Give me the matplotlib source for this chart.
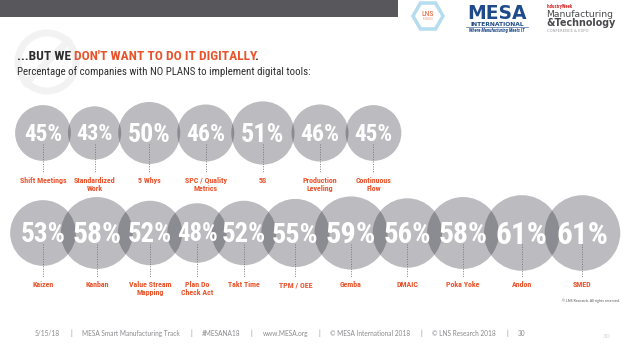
import numpy as np
import matplotlib
matplotlib.use("Agg")
import matplotlib.pyplot as plt
from matplotlib.patches import Circle, RegularPolygon
from matplotlib import font_manager as fm

# data
row1_labels = ["Shift Meetings", "Standardized\nWork", "5 Whys", "SPC / Quality\nMetrics",
               "5S", "Production\nLeveling", "Continuous\nFlow"]
row1_values = [45, 43, 50, 46, 51, 46, 45]
row2_labels = ["Kaizen", "Kanban", "Value Stream\nMapping", "Plan Do\nCheck Act", "Takt Time",
               "TPM / OEE", "Gemba", "DMAIC", "Poka Yoke", "Andon", "SMED"]
row2_values = [53, 58, 52, 48, 52, 55, 59, 56, 58, 61, 61]

footer_items = ["5/15/18", "MESA Smart Manufacturing Track", "#MESANA18", "www.MESA.org",
                "\u00a9 MESA International 2018", "\u00a9 LNS Research 2018", "30"]

# pick a condensed face that is installed
installed = {f.name for f in fm.fontManager.ttflist}
cond = next((n for n in ["Roboto Condensed", "Barlow Condensed", "Archivo Narrow",
                         "PT Sans Narrow", "Liberation Sans Narrow", "Open Sans Condensed"]
             if n in installed), "DejaVu Sans")
NARROW = [cond, "DejaVu Sans"]
FOOT = ["Lato", "DejaVu Sans"]
ORANGE = "#e8532b"
DARK = "#2e2e30"

fig = plt.figure(figsize=(6.24, 3.51), dpi=100)
ax = fig.add_axes([0, 0, 1, 1])
ax.set_xlim(0, 624)
ax.set_ylim(351, 0)
ax.axis("off")
renderer = fig.canvas.get_renderer()


def text_width(s, **kw):
    # width incl. trailing spaces: measure s + "x" minus "x"
    a = ax.text(0, 0, s + "x", **kw)
    b = ax.text(0, 0, "x", **kw)
    w = a.get_window_extent(renderer).width - b.get_window_extent(renderer).width
    a.remove()
    b.remove()
    return w


# header bar
ax.add_patch(plt.Rectangle((0, 0), 398, 17, color="#58575c", lw=0))

# faint "no" watermark
ax.add_patch(Circle((47, 62), 29, fill=False, ec="#f2f2f2", lw=5, zorder=0))
ax.plot([68, 26], [41, 83], color="#f2f2f2", lw=5, zorder=0)

# title in two colours, each piece chained to the previous one
title_kw = dict(fontsize=9.7, fontweight="bold", family=NARROW)
t1 = ax.text(17, 60.5, "...BUT WE", color=DARK, va="baseline", **title_kw)
t2 = ax.annotate("DON'T WANT TO DO IT DIGITALLY", xy=(1, 0), xycoords=t1, xytext=(3, 0),
                 textcoords="offset pixels", color=ORANGE, va="bottom", **title_kw)
ax.annotate(".", xy=(1, 0), xycoords=t2, xytext=(-3.5, 0), textcoords="offset pixels",
            color=DARK, va="bottom", **title_kw)
ax.text(17, 75, "Percentage of companies with NO PLANS to implement digital tools:",
        color=DARK, fontsize=7.8, family=NARROW, va="baseline")


def draw_row(values, labels, cy, x0, overlap, label_y):
    radii = [0.62 * v for v in values]
    cx = x0
    for i, (v, lab, r) in enumerate(zip(values, labels, radii)):
        if i > 0:
            cx += radii[i - 1] + r - overlap
        ax.add_patch(Circle((cx, cy), r, fc="#0a0a16", alpha=0.27, lw=0, zorder=1))
        fs = 0.37 * v
        ax.text(cx, cy + fs * 0.47, f"{v}%", color="white", fontsize=fs, fontweight="bold",
                family=NARROW, ha="center", va="baseline", zorder=3)
        ax.plot([cx, cx], [cy + 11, label_y - 4], color="#7a7a7e", lw=0.7,
                ls=(0, (1, 1.5)), zorder=2)
        ax.text(cx, label_y, lab, color=ORANGE, fontsize=5.7, fontweight="bold", family=NARROW,
                ha="center", va="top", linespacing=1.2, zorder=3)


draw_row(row1_values, row1_labels, 133, 43, 3, 177)
draw_row(row2_values, row2_labels, 233, 43, 15, 281)

# logos (approximation)
ax.add_patch(RegularPolygon((428, 16), 6, radius=15, orientation=np.pi / 6, fill=False,
                            ec="#b5dcef", lw=2.5))
ax.text(428, 16, "LNS", color=ORANGE, fontsize=5.5, family=NARROW, ha="center",
        va="baseline")
ax.text(428, 20, "RESEARCH", color="#e89a80", fontsize=1.8, family=NARROW, ha="center",
        va="baseline")
ax.text(497, 19, "MESA", color="#1f4b8a", fontsize=13.5, fontweight="bold",
        family=["DejaVu Sans"], ha="center", va="baseline")
ax.text(497, 25.6, "INTERNATIONAL", color="#1f4b8a", fontsize=4.3, fontweight="bold",
        family=["DejaVu Sans"], ha="center", va="baseline")
ax.plot([466, 528], [27, 27], color="#1f4b8a", lw=0.4)
ax.text(497, 32, "Where Manufacturing Meets IT", color="#1f4b8a", fontsize=3.3, style="italic",
        fontweight="bold", family=NARROW, ha="center", va="baseline")
ax.text(547, 8, "IndustryWeek", color="#d42a2a", fontsize=3.4, fontweight="bold",
        family=NARROW, va="baseline")
ax.text(546, 17, "Manufacturing", color="#4a4a4e", fontsize=6.7, family=["DejaVu Sans"],
        va="baseline")
ax.text(546, 26, "&Technology", color="#4a4a4e", fontsize=6.9, fontweight="bold",
        family=["DejaVu Sans"], va="baseline")
ax.text(547, 32, "CONFERENCE & EXPO", color="#9a9a9e", fontsize=2.7, family=["DejaVu Sans"],
        va="baseline")

# footer
ax.text(620, 301, "\u00a9 LNS Research. All rights reserved.", color="#555555", fontsize=2.6,
        ha="right", va="center", family=FOOT)
x = 35
for i, item in enumerate(footer_items):
    ax.text(x, 336, item, color="#8a8a8e", fontsize=4.7, family=FOOT, va="baseline")
    x += text_width(item, fontsize=4.7, family=FOOT)
    if i < len(footer_items) - 1:
        ax.text(x + 11, 336, "|", color="#8a8a8e", fontsize=4.7, family=FOOT, va="baseline",
                ha="center")
        x += 22
ax.text(603, 338, "30", color="#d6d6d6", fontsize=4.6, family=FOOT, va="baseline")

fig.savefig("out.png", dpi=100)
